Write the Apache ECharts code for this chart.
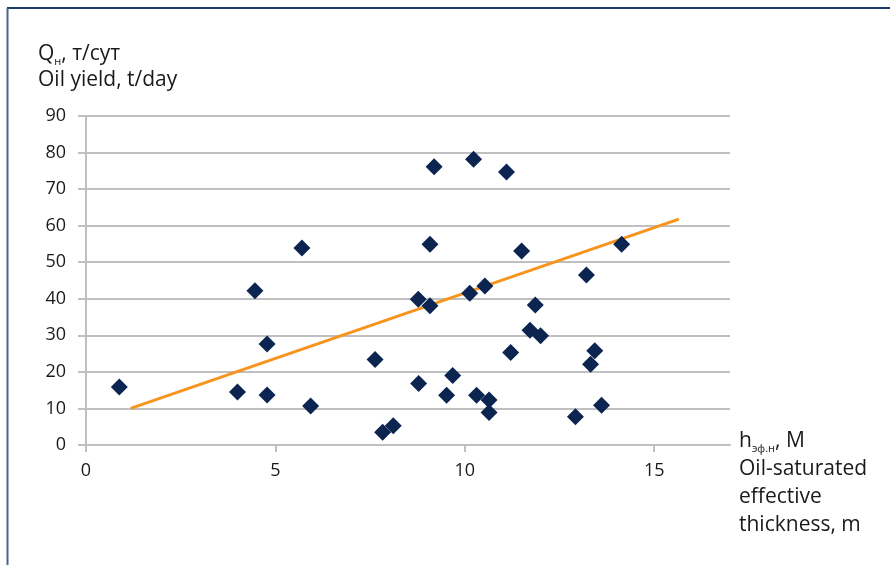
<!DOCTYPE html>
<html>
<head>
<meta charset="utf-8">
<script src="https://cdn.jsdelivr.net/npm/echarts@6/dist/echarts.min.js"></script>
<style>
html,body{margin:0;padding:0;background:#fff;}
#chart{width:890px;height:565px;}
</style>
</head>
<body>
<div id="chart"></div>
<script>
// Oil-saturated effective thickness, m
const thickness = [0.88, 4.00, 4.46, 4.78, 4.78, 5.70, 5.93, 7.63, 7.83, 8.11,
  8.77, 8.78, 9.08, 9.08, 9.19, 9.52, 9.68, 10.13, 10.23, 10.31,
  10.53, 10.64, 10.64, 11.10, 11.21, 11.50, 11.72, 11.86, 12.00, 12.92,
  13.21, 13.32, 13.43, 13.61, 14.14];
// Oil yield, t/day
const oilYield = [15.9, 14.5, 42.2, 27.6, 13.7, 53.9, 10.7, 23.4, 3.5, 5.3,
  39.9, 16.8, 54.9, 38.1, 76.1, 13.6, 19.0, 41.5, 78.2, 13.6,
  43.5, 12.3, 8.9, 74.7, 25.3, 53.1, 31.4, 38.3, 29.9, 7.7,
  46.5, 22.1, 25.8, 10.9, 54.9];
// Linear trend line end points
const trendX = [1.18, 15.65];
const trendY = [10.0, 61.8];
const xTicks = [0, 5, 10, 15];

const points = thickness.map((x, i) => [x, oilYield[i]]);
const trend = trendX.map((x, i) => [x, trendY[i]]);

const FONT = 'Open Sans';
const chart = echarts.init(document.getElementById('chart'), null, {renderer: 'canvas'});
chart.setOption({
  backgroundColor: '#fff',
  animation: false,
  grid: {left: 86, top: 116, width: 644, height: 329, containLabel: false},
  xAxis: {
    type: 'value', min: 0, max: 17, interval: 5,
    axisLine: {show: true, onZero: false, lineStyle: {color: '#c0c0c0', width: 2}},
    axisTick: {show: true, length: 7, customValues: xTicks, lineStyle: {color: '#c0c0c0', width: 2}},
    axisLabel: {customValues: xTicks, color: '#1a1a1a', fontFamily: FONT, fontSize: 18, margin: 17},
    splitLine: {show: false}
  },
  yAxis: {
    type: 'value', min: 0, max: 90, interval: 10,
    axisLine: {show: true, lineStyle: {color: '#c0c0c0', width: 2}},
    axisTick: {show: true, length: 8, lineStyle: {color: '#c0c0c0', width: 2}},
    axisLabel: {color: '#1a1a1a', fontFamily: FONT, fontSize: 18, margin: 20},
    splitLine: {show: true, lineStyle: {color: '#c0c0c0', width: 2}}
  },
  series: [
    {
      type: 'line', data: trend, symbol: 'none', z: 2,
      lineStyle: {color: '#f7941d', width: 3}
    },
    {
      type: 'scatter', data: points, symbol: 'diamond', symbolSize: 17, z: 3,
      itemStyle: {color: '#0b2550', opacity: 1}
    }
  ],
  graphic: [
    {type: 'line', shape: {x1: 7, y1: 8, x2: 890, y2: 8}, style: {stroke: '#1f3a68', lineWidth: 2}},
    {type: 'line', shape: {x1: 7.5, y1: 8, x2: 7.5, y2: 565}, style: {stroke: '#4d6585', lineWidth: 2}},
    {
      type: 'text', left: 38, top: 42,
      style: {
        text: '{m|Q}{s|н}{m|, т/сут}\n{m|Oil yield, t/day}',
        rich: {
          m: {fontFamily: FONT, fontSize: 21, fill: '#1a1a1a', lineHeight: 26},
          s: {fontFamily: FONT, fontSize: 11, fill: '#1a1a1a', padding: [14, 0, 0, 0], lineHeight: 26}
        }
      }
    },
    {
      type: 'text', left: 739, top: 429,
      style: {
        text: '{m|h}{s|эф.н}{m|, М}\n{m|Oil-saturated}\n{m|effective}\n{m|thickness, m}',
        rich: {
          m: {fontFamily: FONT, fontSize: 21, fill: '#1a1a1a', lineHeight: 28},
          s: {fontFamily: FONT, fontSize: 11, fill: '#1a1a1a', padding: [14, 0, 0, 0], lineHeight: 28}
        }
      }
    }
  ]
});
</script>
</body>
</html>
